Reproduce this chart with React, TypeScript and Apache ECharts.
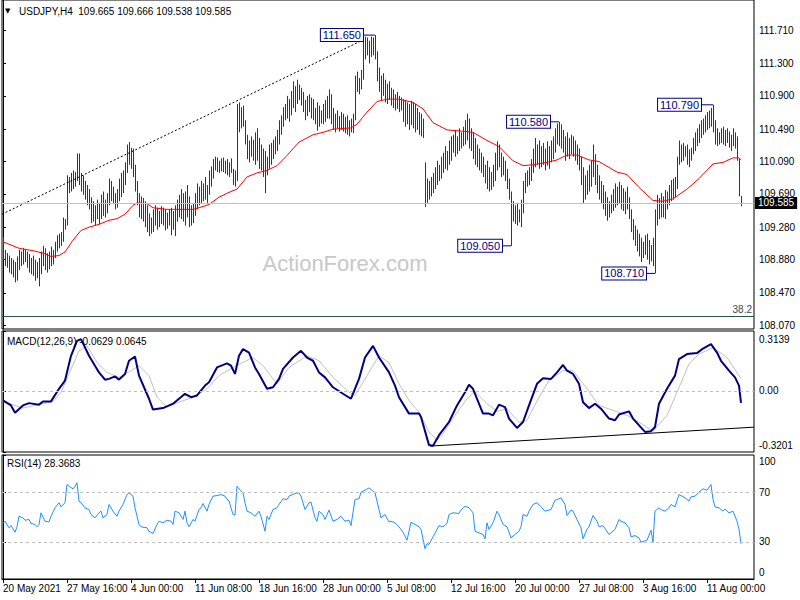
import React, { useEffect, useRef } from "react";
import * as echarts from "echarts";

const HIGHS = [
  109.16,109.00,108.96,108.93,108.90,108.88,108.85,108.92,109.00,108.98,
  109.02,109.00,108.98,108.95,108.90,108.93,108.88,108.85,108.90,108.98,
  109.05,109.02,108.96,108.98,109.04,109.00,109.10,109.18,109.20,109.22,
  109.40,109.38,109.92,109.90,109.95,109.98,109.96,110.19,110.19,109.95,
  109.92,109.85,109.80,109.75,109.65,109.60,109.55,109.62,109.58,109.68,
  109.72,109.62,109.70,109.88,109.85,109.78,109.70,109.75,109.88,109.95,
  109.98,110.08,110.30,110.33,110.26,110.25,110.05,109.85,109.70,109.66,
  109.64,109.60,109.55,109.45,109.40,109.50,109.55,109.52,109.48,109.54,
  109.52,109.50,109.46,109.50,109.52,109.48,109.55,109.62,109.68,109.75,
  109.70,109.72,109.80,109.66,109.55,109.58,109.70,109.82,109.78,109.85,
  109.82,109.90,109.80,109.98,110.03,110.12,110.15,110.14,110.10,110.13,
  110.14,110.10,110.12,110.08,110.13,110.00,109.98,110.80,110.82,110.76,
  110.78,110.60,110.42,110.35,110.40,110.36,110.45,110.50,110.38,110.30,
  110.25,110.22,110.15,110.30,110.32,110.36,110.40,110.48,110.60,110.66,
  110.76,110.80,110.90,110.86,110.96,111.08,111.02,111.10,111.04,111.00,
  110.95,110.85,110.90,110.92,110.88,110.86,110.75,110.82,110.78,110.72,
  110.80,110.85,110.90,110.98,110.92,110.75,110.68,110.72,110.65,110.70,
  110.68,110.64,110.66,110.60,110.62,110.68,111.15,111.20,111.12,111.22,
  111.60,111.63,111.62,111.58,111.63,111.62,111.65,111.45,111.25,111.15,
  111.18,111.10,111.05,111.08,111.00,110.98,110.92,110.95,110.90,110.88,
  110.86,110.85,110.82,110.80,110.84,110.82,110.80,110.75,110.70,110.68,
  110.62,110.08,109.88,109.85,109.90,109.95,110.02,110.10,110.05,110.15,
  110.20,110.28,110.22,110.35,110.40,110.42,110.48,110.40,110.50,110.45,
  110.52,110.60,110.68,110.62,110.50,110.45,110.38,110.30,110.25,110.20,
  110.15,110.05,110.10,110.02,109.96,110.05,110.20,110.34,110.30,110.20,
  110.15,110.10,110.00,109.88,109.72,109.60,109.55,109.58,109.50,109.62,
  109.85,109.95,109.98,110.02,110.12,110.25,110.38,110.30,110.35,110.28,
  110.32,110.25,110.34,110.28,110.35,110.40,110.50,110.56,110.58,110.55,
  110.48,110.40,110.45,110.38,110.42,110.40,110.35,110.30,110.25,110.15,
  110.02,109.92,109.98,110.05,110.10,110.30,110.18,110.05,109.92,109.85,
  109.80,109.72,109.65,109.60,109.68,109.75,109.82,109.78,109.84,109.80,
  109.76,109.72,109.78,109.65,109.50,109.38,109.30,109.25,109.20,109.15,
  109.10,109.18,109.20,109.12,109.06,109.15,109.50,109.68,109.64,109.70,
  109.66,109.74,109.72,109.80,109.86,109.88,109.90,110.15,110.35,110.30,
  110.32,110.28,110.30,110.24,110.26,110.38,110.45,110.50,110.55,110.60,
  110.62,110.66,110.70,110.72,110.75,110.79,110.60,110.50,110.45,110.50,
  110.52,110.48,110.50,110.46,110.42,110.50,110.45,110.40,110.12,109.666,
];

const LOWS = [
  108.87,108.80,108.78,108.72,108.70,108.66,108.60,108.62,108.75,108.80,
  108.82,108.85,108.78,108.72,108.70,108.68,108.62,108.65,108.55,108.70,
  108.80,108.75,108.72,108.76,108.80,108.82,108.90,108.98,109.02,109.05,
  109.10,109.25,109.30,109.70,109.72,109.75,109.78,109.85,109.80,109.72,
  109.68,109.62,109.55,109.50,109.33,109.35,109.30,109.38,109.32,109.38,
  109.42,109.40,109.45,109.55,109.60,109.58,109.50,109.52,109.60,109.65,
  109.70,109.80,109.95,110.05,110.00,109.90,109.72,109.55,109.40,109.38,
  109.35,109.28,109.22,109.17,109.20,109.22,109.30,109.25,109.28,109.32,
  109.30,109.24,109.26,109.30,109.18,109.25,109.17,109.35,109.40,109.38,
  109.35,109.30,109.40,109.28,109.30,109.33,109.42,109.50,109.55,109.58,
  109.60,109.62,109.58,109.68,109.78,109.88,109.98,109.96,109.95,109.97,
  109.96,109.94,109.92,109.90,109.95,109.80,109.78,109.85,110.45,110.50,
  110.52,110.30,110.12,110.08,110.15,110.10,110.05,110.10,110.00,109.98,
  109.90,109.70,109.92,110.00,110.05,110.12,110.18,110.22,110.30,110.42,
  110.52,110.60,110.62,110.58,110.66,110.75,110.70,110.80,110.85,110.78,
  110.70,110.60,110.65,110.70,110.62,110.60,110.55,110.47,110.52,110.56,
  110.55,110.58,110.62,110.62,110.55,110.48,110.45,110.50,110.46,110.48,
  110.46,110.44,110.42,110.40,110.45,110.44,110.60,110.95,110.92,110.98,
  111.10,111.35,111.40,111.30,111.38,111.40,111.35,111.08,110.95,110.85,
  110.90,110.82,110.80,110.85,110.78,110.75,110.72,110.74,110.70,110.72,
  110.58,110.52,110.55,110.48,110.54,110.50,110.45,110.48,110.42,110.40,
  110.38,109.53,109.58,109.62,109.66,109.70,109.75,109.80,109.85,109.88,
  109.95,110.00,109.98,110.05,110.10,110.20,110.15,110.18,110.22,110.25,
  110.28,110.30,110.35,110.25,110.22,110.12,110.05,110.02,109.98,109.95,
  109.90,109.82,109.75,109.72,109.74,109.78,109.85,109.98,110.02,109.90,
  109.92,109.85,109.75,109.62,109.05,109.35,109.32,109.30,109.34,109.28,
  109.45,109.70,109.78,109.80,109.85,109.95,110.02,110.05,110.00,110.02,
  110.05,109.98,110.04,110.00,110.08,110.12,110.20,110.30,110.28,110.25,
  110.20,110.10,110.15,110.12,110.18,110.15,110.10,110.05,109.98,109.80,
  109.58,109.62,109.68,109.72,109.78,109.90,109.80,109.70,109.62,109.58,
  109.50,109.42,109.36,109.40,109.45,109.48,109.52,109.55,109.58,109.50,
  109.48,109.44,109.50,109.38,109.22,109.12,109.05,108.98,108.92,108.85,
  108.90,108.94,108.88,108.82,108.86,108.80,108.71,109.30,109.38,109.40,
  109.40,109.38,109.50,109.55,109.60,109.62,109.65,109.75,110.05,110.08,
  110.10,110.15,110.05,110.02,110.10,110.18,110.22,110.28,110.32,110.38,
  110.42,110.45,110.48,110.50,110.52,110.45,110.30,110.28,110.30,110.32,
  110.30,110.28,110.32,110.26,110.22,110.28,110.25,110.10,109.66,109.538,
];

const MA = [
  [0,109.10],[8,109.02],[15,108.99],[20,108.96],[24,108.92],[28,108.93],[31,108.975],[35,109.12],
  [39,109.24],[43,109.28],[48,109.315],[53,109.365],[57,109.385],[61,109.44],[65,109.55],[67,109.58],
  [72,109.57],[75,109.52],[82,109.50],[88,109.50],[95,109.50],[98,109.52],[103,109.56],[108,109.65],
  [113,109.71],[117,109.75],[122,109.90],[127,109.95],[132,109.98],[137,110.04],[142,110.165],[148,110.33],
  [155,110.42],[160,110.45],[165,110.49],[174,110.505],[177,110.55],[182,110.70],[187,110.83],[192,110.86],
  [198,110.86],[205,110.82],[210,110.74],[215,110.57],[222,110.48],[232,110.46],[235,110.45],[242,110.35],
  [248,110.275],[255,110.10],[260,110.04],[265,110.05],[272,110.08],[277,110.11],[282,110.17],[287,110.17],
  [293,110.11],[298,110.09],[307,109.96],[312,109.93],[318,109.77],[325,109.61],[330,109.60],[335,109.63],
  [342,109.75],[348,109.88],[355,110.06],[360,110.08],[365,110.135],[368,110.135],[369,110.11],
];

const MACD = [
  [0,-0.050],[4,-0.076],[6,-0.114],[10,-0.076],[13,-0.064],[18,-0.072],[20,-0.055],[24,-0.055],
  [28,0.011],[31,0.054],[34,0.184],[37,0.262],[39,0.271],[43,0.184],[48,0.097],[51,0.059],[53,0.063],
  [56,0.076],[58,0.059],[61,0.089],[63,0.158],[66,0.180],[68,0.080],[73,-0.041],[75,-0.098],[80,-0.090],
  [85,-0.067],[91,-0.015],[94,-0.033],[97,-0.024],[101,0.028],[103,0.045],[107,0.123],[112,0.144],
  [114,0.132],[116,0.089],[118,0.184],[120,0.219],[123,0.201],[126,0.123],[128,0.089],[132,0.011],
  [135,0.019],[138,0.063],[140,0.115],[145,0.175],[149,0.210],[152,0.175],[155,0.158],[158,0.097],
  [161,0.071],[165,0.019],[170,-0.015],[174,-0.041],[178,0.063],[181,0.175],[185,0.236],[188,0.175],
  [193,0.097],[196,0.028],[198,-0.033],[203,-0.119],[208,-0.119],[209,-0.137],[213,-0.284],[215,-0.287],
  [218,-0.232],[223,-0.163],[227,-0.076],[231,-0.007],[233,0.032],[235,0.011],[240,-0.119],[243,-0.119],
  [245,-0.128],[248,-0.072],[251,-0.085],[253,-0.145],[257,-0.194],[260,-0.163],[263,-0.076],[267,0.037],
  [270,0.066],[274,0.063],[277,0.097],[280,0.136],[282,0.106],[285,0.089],[288,0.037],[290,-0.059],
  [293,-0.090],[296,-0.067],[299,-0.093],[303,-0.145],[306,-0.154],[308,-0.124],[313,-0.107],[315,-0.145],
  [321,-0.215],[324,-0.211],[326,-0.189],[328,-0.067],[332,0.011],[336,0.080],[338,0.167],[342,0.193],
  [347,0.198],[350,0.222],[354,0.245],[357,0.201],[359,0.158],[363,0.106],[366,0.071],[368,0.028],[369,-0.063],
];

const SIGNAL = [
  [0,-0.055],[10,-0.090],[16,-0.076],[25,-0.055],[29,-0.007],[33,0.089],[38,0.210],[42,0.236],
  [47,0.149],[52,0.097],[58,0.071],[64,0.106],[68,0.132],[73,0.080],[77,-0.033],[82,-0.085],
  [88,-0.059],[95,-0.033],[102,0.011],[108,0.080],[115,0.123],[125,0.175],[130,0.132],[137,0.037],
  [143,0.123],[152,0.184],[158,0.158],[165,0.071],[173,-0.007],[176,-0.024],[182,0.080],[188,0.184],
  [193,0.149],[198,0.037],[203,-0.050],[208,-0.111],[213,-0.215],[217,-0.258],[220,-0.223],[226,-0.128],
  [232,-0.041],[236,-0.003],[242,-0.067],[247,-0.107],[252,-0.093],[258,-0.163],[262,-0.154],[268,-0.033],
  [273,0.054],[280,0.106],[285,0.106],[292,0.011],[298,-0.076],[305,-0.102],[312,-0.128],[318,-0.163],
  [325,-0.211],[332,-0.128],[337,-0.007],[343,0.141],[348,0.193],[355,0.227],[362,0.175],[369,0.0645],
];

const RSI = [
  [0,44.8],[1,46.6],[3,41.3],[4,43.1],[6,37.7],[7,42.1],[8,50.6],[10,49.3],[11,47.4],[13,48],[14,44.8],
  [16,44],[17,42.1],[18,44],[19,53.4],[21,46.6],[23,46],[24,50.6],[26,57.4],[28,61.5],[29,58.2],[31,61.5],
  [32,76.2],[33,74.8],[35,72.7],[36,74.8],[37,77.6],[38,62.8],[39,61.5],[41,57.4],[43,56],[44,52],[46,49.3],
  [48,53.4],[49,54.7],[50,49.3],[52,52],[53,60.1],[55,54.7],[57,50.6],[58,54.7],[60,60.1],[62,68.1],[63,69.5],
  [65,66.8],[66,57.4],[68,44],[69,42.1],[72,41.3],[73,38.5],[75,36.7],[77,44],[78,46.6],[80,45.3],[82,47.4],
  [84,46.6],[85,44],[86,54.7],[88,53.4],[90,48],[91,54.7],[92,45.3],[93,42.1],[95,48],[96,46.6],[98,56],
  [99,57.4],[100,60.9],[102,54.7],[103,60.1],[105,66.8],[107,67.3],[109,68.1],[111,66.8],[112,64.1],[113,63],
  [115,52],[116,51.5],[117,74.8],[118,72.7],[120,69.5],[121,61.5],[122,54.7],[124,53.4],[126,50.6],[128,54.7],
  [129,50.6],[131,38.5],[132,50.6],[133,48],[135,56],[137,57.4],[138,60.1],[140,64.7],[142,64],[143,66.8],
  [146,69],[148,69.5],[149,66.8],[151,56],[153,61.5],[154,62],[156,49.3],[157,46.6],[158,54.7],[160,52],
  [161,48],[163,55.6],[165,46.6],[167,48],[169,50.6],[171,46.6],[173,47.4],[174,43.1],[176,64.1],[178,64.7],
  [179,70],[181,71.6],[183,73.5],[184,72.2],[186,69.5],[188,56],[189,49.3],[191,52],[193,46],[194,46.6],
  [196,45.3],[198,42.1],[200,37.7],[202,31.3],[204,45.8],[206,44],[208,42.1],[209,40],[211,24.4],[212,28.6],
  [213,27.8],[215,34],[217,40],[218,43.1],[220,42.1],[222,44.8],[223,52],[225,53.4],[228,52.8],[229,55.6],
  [231,58.7],[233,57.4],[235,53.4],[236,38.5],[238,37.2],[240,35.9],[241,32.3],[242,45.3],[243,40],[245,45.3],
  [247,54.7],[248,52],[250,44],[252,42.1],[254,33.2],[256,35.9],[258,38.5],[259,42.1],[260,52],[262,50.6],
  [263,54.7],[265,60.1],[267,61.5],[269,58.2],[271,54.7],[273,55.6],[274,56],[276,63.5],[278,64.7],[279,65.5],
  [281,60.1],[282,51.2],[284,55.6],[285,54.7],[287,48],[289,41.3],[290,32.4],[292,40],[293,42.1],[295,51.2],
  [297,46.6],[298,42.1],[300,43.1],[303,35.9],[304,37.2],[306,40],[308,48],[309,46.6],[311,45.3],[313,41.3],
  [314,34],[316,35],[318,33.2],[319,29.7],[322,31.3],[324,39.4],[325,29.7],[326,54.7],[328,57.4],[329,56],
  [331,54.7],[333,57.4],[334,60.1],[336,58.2],[338,68.1],[339,67.3],[341,65.5],[343,62.8],[344,66.2],[346,66.8],
  [348,70],[350,72.7],[352,71.6],[354,76.2],[355,64.1],[356,58.2],[358,57.4],[360,54.7],[361,56.4],[363,53.4],
  [365,54.7],[367,46.6],[368,40],[369,28.4],
];

const TIME_LABELS = [
  "20 May 2021", "27 May 16:00", "4 Jun 00:00", "11 Jun 08:00", "18 Jun 16:00", "28 Jun 00:00",
  "5 Jul 08:00", "12 Jul 16:00", "20 Jul 00:00", "27 Jul 08:00", "3 Aug 16:00", "11 Aug 00:00",
];
const TIME_TICKS = [0, 32, 64, 96, 128, 160, 192, 224, 256, 288, 320, 352];
const PRICE_TICKS = [111.71, 111.3, 110.9, 110.49, 110.09, 109.69, 109.28, 108.88, 108.47, 108.07];
const MACD_TICKS = [0.3139, 0, -0.3201];
const RSI_TICKS = [100, 70, 30, 0];

// pivot annotations: [label, price, box right index, bar index]
const PIVOTS: [string, number, number, number][] = [
  ["111.650", 111.65, 180, 186],
  ["109.050", 109.05, 249.5, 254],
  ["110.580", 110.58, 273.5, 278],
  ["108.710", 108.71, 321.5, 326],
  ["110.790", 110.79, 349, 355],
];
const TRENDLINE_MAIN = [[-0.5, 109.44], [180, 111.59]];
const TRENDLINE_MACD = [[213.5, -0.289], [375.5, -0.19]];
const BID = 109.585;
const FIB382 = 108.183;

const FONT = "Liberation Sans";
const BAR_COLOR = "#1b3d5b";
const NAVY = "#000080";
const FIB_COLOR = "#2f4f4f";

export default function App() {
  const ref = useRef<HTMLDivElement>(null);
  useEffect(() => {
    const chart = echarts.init(ref.current!, null, { renderer: "svg" });
    const xBase: any = { type: "value", min: -0.5, max: 375.5, splitLine: { show: false } };
    const yLabel = (extra: any = {}) => ({
      color: "#000", fontSize: 10, fontFamily: FONT, margin: 5, ...extra,
    });
    const yCommon = {
      type: "value", position: "right", splitLine: { show: false },
      axisLine: { show: true, lineStyle: { color: "#000" } },
    };
    const pivotSeries = PIVOTS.map(([txt, p, a, b]) => ({
      type: "line", xAxisIndex: 0, yAxisIndex: 0, silent: true,
      symbol: "circle", symbolSize: 0, showSymbol: true,
      lineStyle: { color: NAVY, width: 1 },
      data: [
        {
          value: [a, p],
          label: {
            show: true, position: "left", distance: 0, formatter: txt,
            color: NAVY, backgroundColor: "#fff", borderColor: NAVY, borderWidth: 1,
            padding: [1, 2, 0, 2], fontSize: 11, lineHeight: 11, fontFamily: FONT,
          },
        },
        { value: [b, p], label: { show: false } },
      ],
      z: 5,
    }));
    const option: any = {
      animation: false,
      backgroundColor: "#fff",
      grid: [
        { left: 2, top: -1, width: 752, height: 330, show: true, borderColor: "#000", borderWidth: 1 },
        { left: 2, top: 331, width: 752, height: 121, show: true, borderColor: "#000", borderWidth: 1 },
        { left: 2, top: 455, width: 752, height: 124, show: true, borderColor: "#000", borderWidth: 1 },
      ],
      xAxis: [
        { ...xBase, gridIndex: 0, show: false },
        { ...xBase, gridIndex: 1, show: false },
        {
          ...xBase, gridIndex: 2, show: true, position: "bottom",
          axisLine: { show: true, lineStyle: { color: "#000" } },
          axisTick: { show: true, length: 4, lineStyle: { color: "#000" }, customValues: TIME_TICKS },
          axisLabel: {
            customValues: TIME_TICKS,
            formatter: (v: number) => {
              const k = TIME_TICKS.indexOf(Math.round(v));
              return k >= 0 ? TIME_LABELS[k] : "";
            },
            align: "left", color: "#000", fontSize: 10, fontFamily: FONT, margin: 4,
          },
        },
      ],
      yAxis: [
        {
          ...yCommon, gridIndex: 0, min: 108.024, max: 112.083,
          axisTick: { show: true, length: 3, lineStyle: { color: "#000" }, customValues: PRICE_TICKS },
          axisLabel: yLabel({ customValues: PRICE_TICKS, formatter: (v: number) => v.toFixed(3) }),
        },
        {
          ...yCommon, gridIndex: 1, min: -0.3201, max: 0.3139,
          axisTick: { show: true, length: 3, lineStyle: { color: "#000" }, customValues: MACD_TICKS },
          axisLabel: yLabel({
            customValues: MACD_TICKS,
            formatter: (v: number) =>
              v > 0.3 ? "{t|0.3139}" : v < -0.3 ? "{b|-0.3201}" : "0.00",
            rich: {
              t: { padding: [16, 0, 0, 0], fontSize: 10, fontFamily: FONT, color: "#000" },
              b: { padding: [0, 0, 14, 0], fontSize: 10, fontFamily: FONT, color: "#000" },
            },
          }),
        },
        {
          ...yCommon, gridIndex: 2, min: 0, max: 100,
          axisTick: { show: true, length: 3, lineStyle: { color: "#000" }, customValues: RSI_TICKS },
          axisLabel: yLabel({
            customValues: RSI_TICKS,
            formatter: (v: number) =>
              v >= 100 ? "{t|100}" : v <= 0 ? "{b|0}" : String(Math.round(v)),
            rich: {
              t: { padding: [13, 0, 0, 0], fontSize: 10, fontFamily: FONT, color: "#000" },
              b: { padding: [0, 0, 13, 0], fontSize: 10, fontFamily: FONT, color: "#000" },
            },
          }),
        },
      ],
      graphic: [
        {
          type: "text", x: 345, y: 263, z: 0, silent: true,
          style: {
            text: "ActionForex.com", fill: "#c8c8c8", fontSize: 22, fontFamily: FONT,
            textAlign: "center", textVerticalAlign: "middle",
          },
        },
        {
          type: "text", x: 5, y: 11, silent: true,
          style: { text: "▼", fill: "#000", fontSize: 7, fontFamily: "DejaVu Sans", textVerticalAlign: "middle" },
        },
        {
          type: "text", x: 19, y: 11, silent: true,
          style: {
            text: "USDJPY,H4  109.665 109.666 109.538 109.585", fill: "#000", fontSize: 10,
            fontFamily: FONT, textVerticalAlign: "middle",
          },
        },
        {
          type: "text", x: 7, y: 341, silent: true, z: 10,
          style: { text: "MACD(12,26,9) -0.0629 0.0645", fill: "#000", fontSize: 10, fontFamily: FONT, textVerticalAlign: "middle" },
        },
        {
          type: "text", x: 7, y: 463, silent: true, z: 10,
          style: { text: "RSI(14) 28.3683", fill: "#000", fontSize: 10, fontFamily: FONT, textVerticalAlign: "middle" },
        },
      ],
      series: [
        {
          type: "custom", xAxisIndex: 0, yAxisIndex: 0, silent: true, clip: true,
          data: HIGHS.map((h, i) => [i, LOWS[i], h]),
          encode: { x: 0, y: [1, 2] },
          renderItem: (_p: any, api: any) => {
            const i = api.value(0);
            const lo = api.coord([i, api.value(1)]);
            const hi = api.coord([i, api.value(2)]);
            const x = Math.floor(lo[0]) + 0.5;
            let y2 = hi[1];
            if (lo[1] - y2 < 1) y2 = lo[1] - 1;
            return {
              type: "line",
              shape: { x1: x, y1: lo[1], x2: x, y2 },
              style: { stroke: BAR_COLOR, lineWidth: 1 },
            };
          },
          z: 3,
        },
        {
          type: "line", xAxisIndex: 0, yAxisIndex: 0, silent: true, showSymbol: false,
          data: MA, lineStyle: { color: "#ff0000", width: 1 }, z: 4,
          markLine: {
            silent: true, symbol: ["none", "none"], animation: false,
            data: [
              {
                yAxis: BID,
                lineStyle: { color: "#c0c0c0", type: "solid", width: 1 },
                label: {
                  show: true, position: "end", formatter: "109.585", distance: 1,
                  backgroundColor: "#000", color: "#fff", padding: [1, 3, 1, 3],
                  fontSize: 10, fontFamily: FONT,
                },
              },
              {
                yAxis: FIB382,
                lineStyle: { color: FIB_COLOR, type: "solid", width: 1 },
                label: {
                  show: true, position: "insideEndTop", formatter: "38.2", distance: 2,
                  color: FIB_COLOR, fontSize: 10, fontFamily: FONT,
                },
              },
            ],
          },
        },
        {
          type: "line", xAxisIndex: 0, yAxisIndex: 0, silent: true, showSymbol: false,
          data: TRENDLINE_MAIN, lineStyle: { color: "#000", width: 1, type: [2, 2] }, z: 4,
        },
        ...pivotSeries,
        {
          type: "line", xAxisIndex: 1, yAxisIndex: 1, silent: true, showSymbol: false,
          data: SIGNAL, lineStyle: { color: "#c0c0c0", width: 1 }, z: 3,
          markLine: {
            silent: true, symbol: ["none", "none"], label: { show: false },
            lineStyle: { color: "#c0c0c0", type: [3, 3], width: 1 },
            data: [{ yAxis: 0 }],
          },
        },
        {
          type: "line", xAxisIndex: 1, yAxisIndex: 1, silent: true, showSymbol: false,
          data: MACD, lineStyle: { color: NAVY, width: 2 }, z: 4,
        },
        {
          type: "line", xAxisIndex: 1, yAxisIndex: 1, silent: true, showSymbol: false,
          data: TRENDLINE_MACD, lineStyle: { color: "#000", width: 1 }, z: 4,
        },
        {
          type: "line", xAxisIndex: 2, yAxisIndex: 2, silent: true, showSymbol: false,
          data: RSI, lineStyle: { color: "#1e90ff", width: 1 }, z: 4,
          markLine: {
            silent: true, symbol: ["none", "none"], label: { show: false },
            lineStyle: { color: "#c0c0c0", type: [3, 3], width: 1 },
            data: [{ yAxis: 30 }, { yAxis: 70 }],
          },
        },
      ],
    };
    chart.setOption(option);
    return () => chart.dispose();
  }, []);
  return (
    <div
      ref={ref}
      style={{ position: "fixed", left: 0, top: 0, width: 800, height: 600, background: "#fff" }}
    />
  );
}
